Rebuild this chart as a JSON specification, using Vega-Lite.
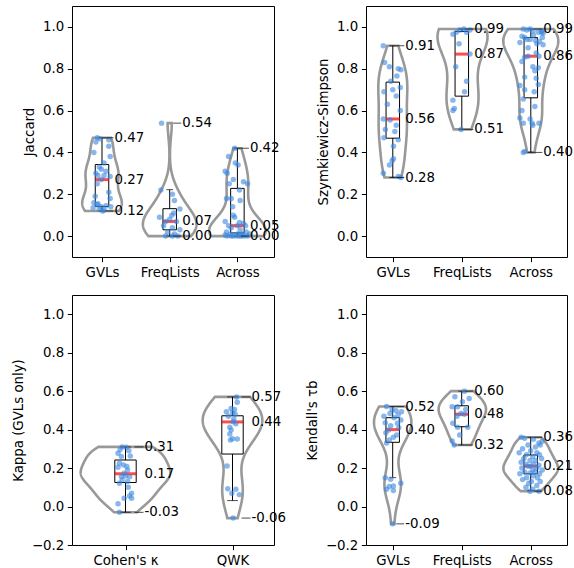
{
"$schema": "https://vega.github.io/schema/vega-lite/v6.json",
"padding": {"left": 10, "top": 5, "right": 0, "bottom": 0},
"bounds": "flush",
"columns": 2,
"spacing": {"row": 38, "column": 92},
"datasets": {
"pts": [
{"p":"TL","c":"GVLs","v":0.47,"j":-0.07},{"p":"TL","c":"GVLs","v":0.465,"j":-0.03},{"p":"TL","c":"GVLs","v":0.46,"j":0.10},{"p":"TL","c":"GVLs","v":0.45,"j":-0.09},{"p":"TL","c":"GVLs","v":0.43,"j":0.10},{"p":"TL","c":"GVLs","v":0.40,"j":-0.12},{"p":"TL","c":"GVLs","v":0.38,"j":0.12},{"p":"TL","c":"GVLs","v":0.35,"j":0.03},{"p":"TL","c":"GVLs","v":0.33,"j":-0.04},{"p":"TL","c":"GVLs","v":0.32,"j":-0.01},{"p":"TL","c":"GVLs","v":0.31,"j":0.06},{"p":"TL","c":"GVLs","v":0.30,"j":-0.09},{"p":"TL","c":"GVLs","v":0.29,"j":-0.06},{"p":"TL","c":"GVLs","v":0.29,"j":0.03},{"p":"TL","c":"GVLs","v":0.285,"j":0.12},{"p":"TL","c":"GVLs","v":0.27,"j":-0.01},{"p":"TL","c":"GVLs","v":0.25,"j":-0.07},{"p":"TL","c":"GVLs","v":0.21,"j":0.10},{"p":"TL","c":"GVLs","v":0.19,"j":-0.10},{"p":"TL","c":"GVLs","v":0.18,"j":0.12},{"p":"TL","c":"GVLs","v":0.16,"j":-0.12},{"p":"TL","c":"GVLs","v":0.155,"j":-0.06},{"p":"TL","c":"GVLs","v":0.15,"j":-0.07},{"p":"TL","c":"GVLs","v":0.145,"j":0.06},{"p":"TL","c":"GVLs","v":0.14,"j":-0.01},{"p":"TL","c":"GVLs","v":0.14,"j":0.13},{"p":"TL","c":"GVLs","v":0.135,"j":-0.13},{"p":"TL","c":"GVLs","v":0.13,"j":-0.04},{"p":"TL","c":"GVLs","v":0.125,"j":0.03},{"p":"TL","c":"GVLs","v":0.12,"j":0.01},
{"p":"TL","c":"FreqLists","v":0.54,"j":-0.12},{"p":"TL","c":"FreqLists","v":0.22,"j":-0.13},{"p":"TL","c":"FreqLists","v":0.20,"j":0.04},{"p":"TL","c":"FreqLists","v":0.17,"j":0.07},{"p":"TL","c":"FreqLists","v":0.13,"j":0.15},{"p":"TL","c":"FreqLists","v":0.11,"j":0.06},{"p":"TL","c":"FreqLists","v":0.10,"j":0.03},{"p":"TL","c":"FreqLists","v":0.09,"j":-0.15},{"p":"TL","c":"FreqLists","v":0.08,"j":0.0},{"p":"TL","c":"FreqLists","v":0.07,"j":-0.06},{"p":"TL","c":"FreqLists","v":0.07,"j":0.10},{"p":"TL","c":"FreqLists","v":0.05,"j":-0.09},{"p":"TL","c":"FreqLists","v":0.04,"j":0.04},{"p":"TL","c":"FreqLists","v":0.03,"j":0.15},{"p":"TL","c":"FreqLists","v":0.02,"j":-0.03},{"p":"TL","c":"FreqLists","v":0.01,"j":0.07},{"p":"TL","c":"FreqLists","v":0.0,"j":-0.06},{"p":"TL","c":"FreqLists","v":0.0,"j":0.04},{"p":"TL","c":"FreqLists","v":0.0,"j":0.12},
{"p":"TL","c":"Across","v":0.42,"j":-0.04},{"p":"TL","c":"Across","v":0.38,"j":-0.13},{"p":"TL","c":"Across","v":0.35,"j":-0.03},{"p":"TL","c":"Across","v":0.34,"j":0.01},{"p":"TL","c":"Across","v":0.31,"j":-0.18},{"p":"TL","c":"Across","v":0.30,"j":-0.15},{"p":"TL","c":"Across","v":0.27,"j":-0.06},{"p":"TL","c":"Across","v":0.26,"j":0.09},{"p":"TL","c":"Across","v":0.25,"j":0.15},{"p":"TL","c":"Across","v":0.25,"j":-0.12},{"p":"TL","c":"Across","v":0.22,"j":0.03},{"p":"TL","c":"Across","v":0.18,"j":-0.16},{"p":"TL","c":"Across","v":0.18,"j":-0.09},{"p":"TL","c":"Across","v":0.17,"j":0.04},{"p":"TL","c":"Across","v":0.14,"j":-0.07},{"p":"TL","c":"Across","v":0.10,"j":-0.06},{"p":"TL","c":"Across","v":0.09,"j":-0.04},{"p":"TL","c":"Across","v":0.07,"j":-0.18},{"p":"TL","c":"Across","v":0.065,"j":0.03},{"p":"TL","c":"Across","v":0.06,"j":0.09},{"p":"TL","c":"Across","v":0.05,"j":-0.13},{"p":"TL","c":"Across","v":0.05,"j":0.0},{"p":"TL","c":"Across","v":0.05,"j":0.12},{"p":"TL","c":"Across","v":0.04,"j":-0.09},{"p":"TL","c":"Across","v":0.03,"j":0.04},{"p":"TL","c":"Across","v":0.02,"j":-0.16},{"p":"TL","c":"Across","v":0.02,"j":0.13},{"p":"TL","c":"Across","v":0.01,"j":-0.10},{"p":"TL","c":"Across","v":0.01,"j":0.0},{"p":"TL","c":"Across","v":0.01,"j":0.07},{"p":"TL","c":"Across","v":0.01,"j":0.18},{"p":"TL","c":"Across","v":0.005,"j":-0.18},{"p":"TL","c":"Across","v":0.0,"j":-0.06},{"p":"TL","c":"Across","v":0.0,"j":0.03},{"p":"TL","c":"Across","v":0.0,"j":0.10},{"p":"TL","c":"Across","v":0.0,"j":-0.15},{"p":"TL","c":"Across","v":0.0,"j":0.15},{"p":"TL","c":"Across","v":0.0,"j":-0.01},{"p":"TL","c":"Across","v":0.0,"j":0.06},{"p":"TL","c":"Across","v":0.0,"j":-0.09},
{"p":"TR","c":"GVLs","v":0.91,"j":-0.14},{"p":"TR","c":"GVLs","v":0.83,"j":-0.12},{"p":"TR","c":"GVLs","v":0.81,"j":-0.05},{"p":"TR","c":"GVLs","v":0.80,"j":0.08},{"p":"TR","c":"GVLs","v":0.795,"j":0.12},{"p":"TR","c":"GVLs","v":0.765,"j":0.06},{"p":"TR","c":"GVLs","v":0.74,"j":-0.03},{"p":"TR","c":"GVLs","v":0.69,"j":-0.13},{"p":"TR","c":"GVLs","v":0.70,"j":0.0},{"p":"TR","c":"GVLs","v":0.67,"j":0.05},{"p":"TR","c":"GVLs","v":0.71,"j":0.11},{"p":"TR","c":"GVLs","v":0.63,"j":-0.08},{"p":"TR","c":"GVLs","v":0.60,"j":0.11},{"p":"TR","c":"GVLs","v":0.56,"j":-0.14},{"p":"TR","c":"GVLs","v":0.555,"j":-0.04},{"p":"TR","c":"GVLs","v":0.53,"j":0.05},{"p":"TR","c":"GVLs","v":0.51,"j":-0.11},{"p":"TR","c":"GVLs","v":0.50,"j":0.03},{"p":"TR","c":"GVLs","v":0.47,"j":-0.13},{"p":"TR","c":"GVLs","v":0.46,"j":0.08},{"p":"TR","c":"GVLs","v":0.43,"j":0.01},{"p":"TR","c":"GVLs","v":0.37,"j":0.01},{"p":"TR","c":"GVLs","v":0.36,"j":-0.01},{"p":"TR","c":"GVLs","v":0.34,"j":-0.05},{"p":"TR","c":"GVLs","v":0.30,"j":-0.14},{"p":"TR","c":"GVLs","v":0.285,"j":0.08},{"p":"TR","c":"GVLs","v":0.28,"j":0.12},
{"p":"TR","c":"FreqLists","v":0.965,"j":-0.13},{"p":"TR","c":"FreqLists","v":0.975,"j":-0.08},{"p":"TR","c":"FreqLists","v":0.985,"j":-0.03},{"p":"TR","c":"FreqLists","v":0.99,"j":0.03},{"p":"TR","c":"FreqLists","v":0.975,"j":0.07},{"p":"TR","c":"FreqLists","v":0.985,"j":0.12},{"p":"TR","c":"FreqLists","v":0.92,"j":-0.04},{"p":"TR","c":"FreqLists","v":0.87,"j":0.12},{"p":"TR","c":"FreqLists","v":0.81,"j":-0.09},{"p":"TR","c":"FreqLists","v":0.74,"j":0.07},{"p":"TR","c":"FreqLists","v":0.69,"j":0.04},{"p":"TR","c":"FreqLists","v":0.65,"j":-0.13},{"p":"TR","c":"FreqLists","v":0.61,"j":-0.11},{"p":"TR","c":"FreqLists","v":0.60,"j":-0.13},{"p":"TR","c":"FreqLists","v":0.51,"j":-0.01},
{"p":"TR","c":"Across","v":0.99,"j":-0.11},{"p":"TR","c":"Across","v":0.985,"j":-0.06},{"p":"TR","c":"Across","v":0.98,"j":0.03},{"p":"TR","c":"Across","v":0.975,"j":0.11},{"p":"TR","c":"Across","v":0.975,"j":0.16},{"p":"TR","c":"Across","v":0.97,"j":0.18},{"p":"TR","c":"Across","v":0.955,"j":-0.13},{"p":"TR","c":"Across","v":0.95,"j":-0.09},{"p":"TR","c":"Across","v":0.94,"j":-0.01},{"p":"TR","c":"Across","v":0.935,"j":0.07},{"p":"TR","c":"Across","v":0.93,"j":0.13},{"p":"TR","c":"Across","v":0.925,"j":-0.16},{"p":"TR","c":"Across","v":0.915,"j":0.18},{"p":"TR","c":"Across","v":0.90,"j":-0.04},{"p":"TR","c":"Across","v":0.875,"j":0.08},{"p":"TR","c":"Across","v":0.855,"j":-0.09},{"p":"TR","c":"Across","v":0.835,"j":-0.13},{"p":"TR","c":"Across","v":0.81,"j":0.03},{"p":"TR","c":"Across","v":0.805,"j":0.11},{"p":"TR","c":"Across","v":0.79,"j":0.06},{"p":"TR","c":"Across","v":0.76,"j":-0.09},{"p":"TR","c":"Across","v":0.755,"j":0.08},{"p":"TR","c":"Across","v":0.725,"j":0.11},{"p":"TR","c":"Across","v":0.72,"j":-0.16},{"p":"TR","c":"Across","v":0.70,"j":-0.09},{"p":"TR","c":"Across","v":0.69,"j":0.05},{"p":"TR","c":"Across","v":0.655,"j":-0.11},{"p":"TR","c":"Across","v":0.62,"j":0.06},{"p":"TR","c":"Across","v":0.60,"j":-0.13},{"p":"TR","c":"Across","v":0.565,"j":-0.16},{"p":"TR","c":"Across","v":0.56,"j":-0.01},{"p":"TR","c":"Across","v":0.54,"j":-0.11},{"p":"TR","c":"Across","v":0.54,"j":0.02},{"p":"TR","c":"Across","v":0.54,"j":0.12},{"p":"TR","c":"Across","v":0.53,"j":0.03},{"p":"TR","c":"Across","v":0.405,"j":-0.09},{"p":"TR","c":"Across","v":0.40,"j":-0.11},{"p":"TR","c":"Across","v":0.99,"j":-0.01},{"p":"TR","c":"Across","v":0.98,"j":0.16},{"p":"TR","c":"Across","v":0.96,"j":0.04},{"p":"TR","c":"Across","v":0.95,"j":0.17},{"p":"TR","c":"Across","v":0.94,"j":-0.06},{"p":"TR","c":"Across","v":0.92,"j":0.09},{"p":"TR","c":"Across","v":0.86,"j":-0.04},{"p":"TR","c":"Across","v":0.86,"j":0.12},
{"p":"BL","c":"Cohen's κ","v":0.31,"j":-0.05},{"p":"BL","c":"Cohen's κ","v":0.308,"j":0.01},{"p":"BL","c":"Cohen's κ","v":0.295,"j":-0.08},{"p":"BL","c":"Cohen's κ","v":0.29,"j":0.05},{"p":"BL","c":"Cohen's κ","v":0.277,"j":-0.11},{"p":"BL","c":"Cohen's κ","v":0.26,"j":-0.06},{"p":"BL","c":"Cohen's κ","v":0.263,"j":0.07},{"p":"BL","c":"Cohen's κ","v":0.225,"j":-0.09},{"p":"BL","c":"Cohen's κ","v":0.216,"j":-0.03},{"p":"BL","c":"Cohen's κ","v":0.208,"j":0.02},{"p":"BL","c":"Cohen's κ","v":0.204,"j":-0.11},{"p":"BL","c":"Cohen's κ","v":0.19,"j":0.03},{"p":"BL","c":"Cohen's κ","v":0.173,"j":-0.02},{"p":"BL","c":"Cohen's κ","v":0.159,"j":0.0},{"p":"BL","c":"Cohen's κ","v":0.156,"j":-0.06},{"p":"BL","c":"Cohen's κ","v":0.155,"j":0.06},{"p":"BL","c":"Cohen's κ","v":0.138,"j":-0.05},{"p":"BL","c":"Cohen's κ","v":0.13,"j":0.03},{"p":"BL","c":"Cohen's κ","v":0.121,"j":-0.09},{"p":"BL","c":"Cohen's κ","v":0.10,"j":0.04},{"p":"BL","c":"Cohen's κ","v":0.069,"j":0.09},{"p":"BL","c":"Cohen's κ","v":0.055,"j":0.06},{"p":"BL","c":"Cohen's κ","v":0.043,"j":0.09},{"p":"BL","c":"Cohen's κ","v":0.043,"j":-0.02},{"p":"BL","c":"Cohen's κ","v":0.014,"j":-0.11},{"p":"BL","c":"Cohen's κ","v":-0.03,"j":-0.09},
{"p":"BL","c":"QWK","v":0.57,"j":0.06},{"p":"BL","c":"QWK","v":0.542,"j":0.07},{"p":"BL","c":"QWK","v":0.51,"j":-0.02},{"p":"BL","c":"QWK","v":0.505,"j":0.03},{"p":"BL","c":"QWK","v":0.493,"j":-0.09},{"p":"BL","c":"QWK","v":0.488,"j":0.0},{"p":"BL","c":"QWK","v":0.48,"j":0.04},{"p":"BL","c":"QWK","v":0.441,"j":0.01},{"p":"BL","c":"QWK","v":0.412,"j":-0.04},{"p":"BL","c":"QWK","v":0.398,"j":-0.02},{"p":"BL","c":"QWK","v":0.377,"j":-0.04},{"p":"BL","c":"QWK","v":0.351,"j":0.07},{"p":"BL","c":"QWK","v":0.346,"j":-0.03},{"p":"BL","c":"QWK","v":0.353,"j":0.0},{"p":"BL","c":"QWK","v":0.211,"j":-0.08},{"p":"BL","c":"QWK","v":0.092,"j":-0.07},{"p":"BL","c":"QWK","v":0.09,"j":0.05},{"p":"BL","c":"QWK","v":0.069,"j":-0.01},{"p":"BL","c":"QWK","v":0.062,"j":0.10},{"p":"BL","c":"QWK","v":-0.06,"j":0.01},{"p":"BL","c":"QWK","v":0.47,"j":-0.06},{"p":"BL","c":"QWK","v":0.455,"j":0.02},{"p":"BL","c":"QWK","v":0.43,"j":0.05},
{"p":"BR","c":"GVLs","v":0.52,"j":-0.09},{"p":"BR","c":"GVLs","v":0.505,"j":-0.01},{"p":"BR","c":"GVLs","v":0.498,"j":0.05},{"p":"BR","c":"GVLs","v":0.493,"j":0.13},{"p":"BR","c":"GVLs","v":0.484,"j":-0.04},{"p":"BR","c":"GVLs","v":0.476,"j":0.08},{"p":"BR","c":"GVLs","v":0.462,"j":0.02},{"p":"BR","c":"GVLs","v":0.436,"j":-0.11},{"p":"BR","c":"GVLs","v":0.433,"j":0.07},{"p":"BR","c":"GVLs","v":0.398,"j":-0.06},{"p":"BR","c":"GVLs","v":0.384,"j":-0.10},{"p":"BR","c":"GVLs","v":0.372,"j":0.06},{"p":"BR","c":"GVLs","v":0.36,"j":0.01},{"p":"BR","c":"GVLs","v":0.346,"j":-0.05},{"p":"BR","c":"GVLs","v":0.33,"j":-0.09},{"p":"BR","c":"GVLs","v":0.15,"j":-0.11},{"p":"BR","c":"GVLs","v":0.142,"j":-0.03},{"p":"BR","c":"GVLs","v":0.121,"j":0.12},{"p":"BR","c":"GVLs","v":0.104,"j":-0.05},{"p":"BR","c":"GVLs","v":0.107,"j":0.01},{"p":"BR","c":"GVLs","v":0.09,"j":-0.09},{"p":"BR","c":"GVLs","v":0.083,"j":0.01},{"p":"BR","c":"GVLs","v":-0.09,"j":0.0},{"p":"BR","c":"GVLs","v":0.47,"j":-0.13},{"p":"BR","c":"GVLs","v":0.45,"j":0.12},{"p":"BR","c":"GVLs","v":0.42,"j":-0.03},{"p":"BR","c":"GVLs","v":0.41,"j":0.09},
{"p":"BR","c":"FreqLists","v":0.60,"j":0.04},{"p":"BR","c":"FreqLists","v":0.571,"j":-0.10},{"p":"BR","c":"FreqLists","v":0.562,"j":0.11},{"p":"BR","c":"FreqLists","v":0.545,"j":0.01},{"p":"BR","c":"FreqLists","v":0.519,"j":-0.14},{"p":"BR","c":"FreqLists","v":0.519,"j":-0.06},{"p":"BR","c":"FreqLists","v":0.505,"j":0.06},{"p":"BR","c":"FreqLists","v":0.484,"j":-0.01},{"p":"BR","c":"FreqLists","v":0.48,"j":0.04},{"p":"BR","c":"FreqLists","v":0.47,"j":-0.07},{"p":"BR","c":"FreqLists","v":0.433,"j":-0.13},{"p":"BR","c":"FreqLists","v":0.412,"j":-0.06},{"p":"BR","c":"FreqLists","v":0.412,"j":0.09},{"p":"BR","c":"FreqLists","v":0.372,"j":-0.03},{"p":"BR","c":"FreqLists","v":0.341,"j":-0.14},{"p":"BR","c":"FreqLists","v":0.32,"j":-0.11},
{"p":"BR","c":"Across","v":0.36,"j":-0.14},{"p":"BR","c":"Across","v":0.355,"j":-0.09},{"p":"BR","c":"Across","v":0.35,"j":0.04},{"p":"BR","c":"Across","v":0.34,"j":0.17},{"p":"BR","c":"Across","v":0.33,"j":0.12},{"p":"BR","c":"Across","v":0.32,"j":-0.04},{"p":"BR","c":"Across","v":0.32,"j":0.14},{"p":"BR","c":"Across","v":0.31,"j":0.07},{"p":"BR","c":"Across","v":0.30,"j":-0.12},{"p":"BR","c":"Across","v":0.29,"j":0.0},{"p":"BR","c":"Across","v":0.28,"j":-0.17},{"p":"BR","c":"Across","v":0.28,"j":0.09},{"p":"BR","c":"Across","v":0.27,"j":-0.06},{"p":"BR","c":"Across","v":0.27,"j":0.13},{"p":"BR","c":"Across","v":0.26,"j":0.03},{"p":"BR","c":"Across","v":0.25,"j":-0.10},{"p":"BR","c":"Across","v":0.25,"j":0.16},{"p":"BR","c":"Across","v":0.24,"j":-0.01},{"p":"BR","c":"Across","v":0.24,"j":0.07},{"p":"BR","c":"Across","v":0.23,"j":-0.14},{"p":"BR","c":"Across","v":0.22,"j":0.04},{"p":"BR","c":"Across","v":0.22,"j":-0.07},{"p":"BR","c":"Across","v":0.215,"j":0.12},{"p":"BR","c":"Across","v":0.21,"j":0.0},{"p":"BR","c":"Across","v":0.21,"j":-0.04},{"p":"BR","c":"Across","v":0.20,"j":0.09},{"p":"BR","c":"Across","v":0.20,"j":-0.13},{"p":"BR","c":"Across","v":0.19,"j":0.03},{"p":"BR","c":"Across","v":0.19,"j":0.17},{"p":"BR","c":"Across","v":0.18,"j":-0.09},{"p":"BR","c":"Across","v":0.18,"j":0.06},{"p":"BR","c":"Across","v":0.175,"j":-0.01},{"p":"BR","c":"Across","v":0.17,"j":0.13},{"p":"BR","c":"Across","v":0.17,"j":-0.16},{"p":"BR","c":"Across","v":0.16,"j":0.04},{"p":"BR","c":"Across","v":0.15,"j":-0.06},{"p":"BR","c":"Across","v":0.15,"j":0.10},{"p":"BR","c":"Across","v":0.14,"j":-0.12},{"p":"BR","c":"Across","v":0.13,"j":0.01},{"p":"BR","c":"Across","v":0.13,"j":0.14},{"p":"BR","c":"Across","v":0.12,"j":-0.03},{"p":"BR","c":"Across","v":0.11,"j":0.09},{"p":"BR","c":"Across","v":0.10,"j":-0.07},{"p":"BR","c":"Across","v":0.09,"j":0.03},{"p":"BR","c":"Across","v":0.08,"j":-0.01},{"p":"BR","c":"Across","v":0.08,"j":0.12}
],
"st": [
{"p":"TL","c":"GVLs","lo":0.12,"q1":0.142,"med":0.27,"q3":0.342,"hi":0.47,"mn":0.12,"mx":0.47},
{"p":"TL","c":"FreqLists","lo":0.0,"q1":0.03,"med":0.07,"q3":0.131,"hi":0.222,"mn":0.0,"mx":0.54},
{"p":"TL","c":"Across","lo":0.0,"q1":0.015,"med":0.05,"q3":0.228,"hi":0.42,"mn":0.0,"mx":0.42},
{"p":"TR","c":"GVLs","lo":0.28,"q1":0.468,"med":0.56,"q3":0.736,"hi":0.91,"mn":0.28,"mx":0.91},
{"p":"TR","c":"FreqLists","lo":0.51,"q1":0.669,"med":0.87,"q3":0.978,"hi":0.99,"mn":0.51,"mx":0.99},
{"p":"TR","c":"Across","lo":0.40,"q1":0.661,"med":0.86,"q3":0.949,"hi":0.99,"mn":0.40,"mx":0.99},
{"p":"BL","c":"Cohen's κ","lo":-0.03,"q1":0.125,"med":0.17,"q3":0.242,"hi":0.31,"mn":-0.03,"mx":0.31},
{"p":"BL","c":"QWK","lo":0.031,"q1":0.273,"med":0.44,"q3":0.472,"hi":0.57,"mn":-0.06,"mx":0.57},
{"p":"BR","c":"GVLs","lo":0.15,"q1":0.334,"med":0.40,"q3":0.462,"hi":0.52,"mn":-0.09,"mx":0.52},
{"p":"BR","c":"FreqLists","lo":0.32,"q1":0.415,"med":0.48,"q3":0.524,"hi":0.60,"mn":0.32,"mx":0.60},
{"p":"BR","c":"Across","lo":0.083,"q1":0.17,"med":0.21,"q3":0.268,"hi":0.36,"mn":0.08,"mx":0.36}
]
},
"concat": [
{
"width": 202, "height": 251,
"resolve": {"scale": {"x": "independent"}},
"layer": [
{"resolve": {"scale": {"x": "independent"}}, "layer": [
{"data": {"name": "pts"}, "transform": [{"filter": {"and": [{"field": "p", "equal": "TL"}, {"field": "c", "equal": "GVLs"}]}}, {"density": "v", "bandwidth": 0.056, "as": ["v", "density"]}],
 "mark": {"type": "area", "orient": "horizontal", "fillOpacity": 0, "stroke": "#999999", "strokeWidth": 2.6},
 "encoding": {"x": {"field": "density", "type": "quantitative", "stack": "center", "scale": {"range": [10.2, 49.8], "nice": false, "zero": false}, "axis": null}, "y": {"field": "v", "type": "quantitative"}}},
{"data": {"name": "pts"}, "transform": [{"filter": {"and": [{"field": "p", "equal": "TL"}, {"field": "c", "equal": "FreqLists"}]}}, {"density": "v", "bandwidth": 0.066, "as": ["v", "density"]}],
 "mark": {"type": "area", "orient": "horizontal", "fillOpacity": 0, "stroke": "#999999", "strokeWidth": 2.6},
 "encoding": {"x": {"field": "density", "type": "quantitative", "stack": "center", "scale": {"range": [70.9, 124.5], "nice": false, "zero": false}, "axis": null}, "y": {"field": "v", "type": "quantitative"}}},
{"data": {"name": "pts"}, "transform": [{"filter": {"and": [{"field": "p", "equal": "TL"}, {"field": "c", "equal": "Across"}]}}, {"density": "v", "bandwidth": 0.062, "as": ["v", "density"]}],
 "mark": {"type": "area", "orient": "horizontal", "fillOpacity": 0, "stroke": "#999999", "strokeWidth": 2.6},
 "encoding": {"x": {"field": "density", "type": "quantitative", "stack": "center", "scale": {"range": [137.2, 193.6], "nice": false, "zero": false}, "axis": null}, "y": {"field": "v", "type": "quantitative"}}}
]},
{"encoding": {"x": {"field": "c", "type": "nominal", "title": null, "scale": {"type": "point", "domain": ["GVLs", "FreqLists", "Across"], "range": [30, 165.4], "padding": 0}}},
 "layer": [
{"data": {"name": "st"}, "transform": [{"filter": {"field": "p", "equal": "TL"}}], "mark": {"type": "rule", "color": "black", "strokeWidth": 1},
 "encoding": {"y": {"field": "lo", "type": "quantitative", "scale": {"domain": [-0.1, 1.1], "nice": false}, "axis": {"values": [0, 0.2, 0.4, 0.6, 0.8, 1.0], "format": ".1f", "labelExpr": "replace(datum.label, '-', '−')", "title": "Jaccard"}}, "y2": {"field": "q1"}}},
{"data": {"name": "st"}, "transform": [{"filter": {"field": "p", "equal": "TL"}}], "mark": {"type": "rule", "color": "black", "strokeWidth": 1},
 "encoding": {"y": {"field": "q3", "type": "quantitative"}, "y2": {"field": "hi"}}},
{"data": {"name": "st"}, "transform": [{"filter": {"field": "p", "equal": "TL"}}, {"fold": ["lo", "hi"], "as": ["k", "w"]}], "mark": {"type": "tick", "color": "black", "thickness": 1, "size": 6.8},
 "encoding": {"y": {"field": "w", "type": "quantitative"}}},
{"data": {"name": "st"}, "transform": [{"filter": {"field": "p", "equal": "TL"}}], "mark": {"type": "bar", "size": 13.5, "fillOpacity": 0, "stroke": "black", "strokeWidth": 1},
 "encoding": {"y": {"field": "q1", "type": "quantitative"}, "y2": {"field": "q3"}}},
{"data": {"name": "st"}, "transform": [{"filter": {"field": "p", "equal": "TL"}}], "mark": {"type": "tick", "color": "#ff0000", "thickness": 3, "size": 13.5},
 "encoding": {"y": {"field": "med", "type": "quantitative"}}},
{"data": {"name": "pts"}, "transform": [{"filter": {"field": "p", "equal": "TL"}}], "mark": {"type": "circle", "size": 30, "color": "#3b87e0", "opacity": 0.6},
 "encoding": {"y": {"field": "v", "type": "quantitative"}, "xOffset": {"field": "j", "type": "quantitative", "scale": {"domain": [-1, 1], "range": [-68, 68]}}}},
{"data": {"name": "st"}, "transform": [{"filter": {"field": "p", "equal": "TL"}}, {"fold": ["mn", "mx"], "as": ["k", "w"]}], "mark": {"type": "tick", "color": "black", "thickness": 1, "size": 8, "xOffset": 7.5},
 "encoding": {"y": {"field": "w", "type": "quantitative"}}},
{"data": {"name": "st"}, "transform": [{"filter": {"field": "p", "equal": "TL"}}, {"fold": ["mn", "mx"], "as": ["k", "w"]}], "mark": {"type": "text", "align": "left", "baseline": "middle", "dx": 12.5, "fontSize": 13.33, "font": "DejaVu Sans", "color": "black"},
 "encoding": {"y": {"field": "w", "type": "quantitative"}, "text": {"field": "w", "type": "quantitative", "format": ".2f"}}},
{"data": {"name": "st"}, "transform": [{"filter": {"field": "p", "equal": "TL"}}], "mark": {"type": "text", "align": "left", "baseline": "middle", "dx": 12.5, "fontSize": 13.33, "font": "DejaVu Sans", "color": "black"},
 "encoding": {"y": {"field": "med", "type": "quantitative"}, "text": {"field": "med", "type": "quantitative", "format": ".2f"}}}
]}
]
},
{
"width": 201, "height": 251,
"resolve": {"scale": {"x": "independent"}},
"layer": [
{"resolve": {"scale": {"x": "independent"}}, "layer": [
{"data": {"name": "pts"}, "transform": [{"filter": {"and": [{"field": "p", "equal": "TR"}, {"field": "c", "equal": "GVLs"}]}}, {"density": "v", "bandwidth": 0.088, "as": ["v", "density"]}],
 "mark": {"type": "area", "orient": "horizontal", "fillOpacity": 0, "stroke": "#999999", "strokeWidth": 2.6},
 "encoding": {"x": {"field": "density", "type": "quantitative", "stack": "center", "scale": {"range": [12.3, 41.3], "nice": false, "zero": false}, "axis": null}, "y": {"field": "v", "type": "quantitative"}}},
{"data": {"name": "pts"}, "transform": [{"filter": {"and": [{"field": "p", "equal": "TR"}, {"field": "c", "equal": "FreqLists"}]}}, {"density": "v", "bandwidth": 0.093, "as": ["v", "density"]}],
 "mark": {"type": "area", "orient": "horizontal", "fillOpacity": 0, "stroke": "#999999", "strokeWidth": 2.6},
 "encoding": {"x": {"field": "density", "type": "quantitative", "stack": "center", "scale": {"range": [71.5, 121.5], "nice": false, "zero": false}, "axis": null}, "y": {"field": "v", "type": "quantitative"}}},
{"data": {"name": "pts"}, "transform": [{"filter": {"and": [{"field": "p", "equal": "TR"}, {"field": "c", "equal": "Across"}]}}, {"density": "v", "bandwidth": 0.075, "as": ["v", "density"]}],
 "mark": {"type": "area", "orient": "horizontal", "fillOpacity": 0, "stroke": "#999999", "strokeWidth": 2.6},
 "encoding": {"x": {"field": "density", "type": "quantitative", "stack": "center", "scale": {"range": [137.3, 192.3], "nice": false, "zero": false}, "axis": null}, "y": {"field": "v", "type": "quantitative"}}}
]},
{"encoding": {"x": {"field": "c", "type": "nominal", "title": null, "scale": {"type": "point", "domain": ["GVLs", "FreqLists", "Across"], "range": [26.8, 164.8], "padding": 0}}},
 "layer": [
{"data": {"name": "st"}, "transform": [{"filter": {"field": "p", "equal": "TR"}}], "mark": {"type": "rule", "color": "black", "strokeWidth": 1},
 "encoding": {"y": {"field": "lo", "type": "quantitative", "scale": {"domain": [-0.1, 1.1], "nice": false}, "axis": {"values": [0, 0.2, 0.4, 0.6, 0.8, 1.0], "format": ".1f", "labelExpr": "replace(datum.label, '-', '−')", "title": "Szymkiewicz-Simpson"}}, "y2": {"field": "q1"}}},
{"data": {"name": "st"}, "transform": [{"filter": {"field": "p", "equal": "TR"}}], "mark": {"type": "rule", "color": "black", "strokeWidth": 1},
 "encoding": {"y": {"field": "q3", "type": "quantitative"}, "y2": {"field": "hi"}}},
{"data": {"name": "st"}, "transform": [{"filter": {"field": "p", "equal": "TR"}}, {"fold": ["lo", "hi"], "as": ["k", "w"]}], "mark": {"type": "tick", "color": "black", "thickness": 1, "size": 6.8},
 "encoding": {"y": {"field": "w", "type": "quantitative"}}},
{"data": {"name": "st"}, "transform": [{"filter": {"field": "p", "equal": "TR"}}], "mark": {"type": "bar", "size": 13.5, "fillOpacity": 0, "stroke": "black", "strokeWidth": 1},
 "encoding": {"y": {"field": "q1", "type": "quantitative"}, "y2": {"field": "q3"}}},
{"data": {"name": "st"}, "transform": [{"filter": {"field": "p", "equal": "TR"}}], "mark": {"type": "tick", "color": "#ff0000", "thickness": 3, "size": 13.5},
 "encoding": {"y": {"field": "med", "type": "quantitative"}}},
{"data": {"name": "pts"}, "transform": [{"filter": {"field": "p", "equal": "TR"}}], "mark": {"type": "circle", "size": 30, "color": "#3b87e0", "opacity": 0.6},
 "encoding": {"y": {"field": "v", "type": "quantitative"}, "xOffset": {"field": "j", "type": "quantitative", "scale": {"domain": [-1, 1], "range": [-69, 69]}}}},
{"data": {"name": "st"}, "transform": [{"filter": {"field": "p", "equal": "TR"}}, {"fold": ["mn", "mx"], "as": ["k", "w"]}], "mark": {"type": "tick", "color": "black", "thickness": 1, "size": 8, "xOffset": 7.5},
 "encoding": {"y": {"field": "w", "type": "quantitative"}}},
{"data": {"name": "st"}, "transform": [{"filter": {"field": "p", "equal": "TR"}}, {"fold": ["mn", "mx"], "as": ["k", "w"]}], "mark": {"type": "text", "align": "left", "baseline": "middle", "dx": 12.5, "fontSize": 13.33, "font": "DejaVu Sans", "color": "black"},
 "encoding": {"y": {"field": "w", "type": "quantitative"}, "text": {"field": "w", "type": "quantitative", "format": ".2f"}}},
{"data": {"name": "st"}, "transform": [{"filter": {"field": "p", "equal": "TR"}}], "mark": {"type": "text", "align": "left", "baseline": "middle", "dx": 12.5, "fontSize": 13.33, "font": "DejaVu Sans", "color": "black"},
 "encoding": {"y": {"field": "med", "type": "quantitative"}, "text": {"field": "med", "type": "quantitative", "format": ".2f"}}}
]}
]
},
{
"width": 202, "height": 250,
"resolve": {"scale": {"x": "independent"}},
"layer": [
{"resolve": {"scale": {"x": "independent"}}, "layer": [
{"data": {"name": "pts"}, "transform": [{"filter": {"and": [{"field": "p", "equal": "BL"}, {"field": "c", "equal": "Cohen's κ"}]}}, {"density": "v", "bandwidth": 0.05, "as": ["v", "density"]}],
 "mark": {"type": "area", "orient": "horizontal", "fillOpacity": 0, "stroke": "#999999", "strokeWidth": 2.6},
 "encoding": {"x": {"field": "density", "type": "quantitative", "stack": "center", "scale": {"range": [8.7, 98.3], "nice": false, "zero": false}, "axis": null}, "y": {"field": "v", "type": "quantitative"}}},
{"data": {"name": "pts"}, "transform": [{"filter": {"and": [{"field": "p", "equal": "BL"}, {"field": "c", "equal": "QWK"}]}}, {"density": "v", "bandwidth": 0.094, "as": ["v", "density"]}],
 "mark": {"type": "area", "orient": "horizontal", "fillOpacity": 0, "stroke": "#999999", "strokeWidth": 2.6},
 "encoding": {"x": {"field": "density", "type": "quantitative", "stack": "center", "scale": {"range": [130.7, 190.3], "nice": false, "zero": false}, "axis": null}, "y": {"field": "v", "type": "quantitative"}}}
]},
{"encoding": {"x": {"field": "c", "type": "nominal", "title": null, "scale": {"type": "point", "domain": ["Cohen's κ", "QWK"], "range": [53.5, 160.5], "padding": 0}}},
 "layer": [
{"data": {"name": "st"}, "transform": [{"filter": {"field": "p", "equal": "BL"}}], "mark": {"type": "rule", "color": "black", "strokeWidth": 1},
 "encoding": {"y": {"field": "lo", "type": "quantitative", "scale": {"domain": [-0.2, 1.1], "nice": false}, "axis": {"values": [-0.2, 0, 0.2, 0.4, 0.6, 0.8, 1.0], "format": ".1f", "labelExpr": "replace(datum.label, '-', '−')", "title": "Kappa (GVLs only)"}}, "y2": {"field": "q1"}}},
{"data": {"name": "st"}, "transform": [{"filter": {"field": "p", "equal": "BL"}}], "mark": {"type": "rule", "color": "black", "strokeWidth": 1},
 "encoding": {"y": {"field": "q3", "type": "quantitative"}, "y2": {"field": "hi"}}},
{"data": {"name": "st"}, "transform": [{"filter": {"field": "p", "equal": "BL"}}, {"fold": ["lo", "hi"], "as": ["k", "w"]}], "mark": {"type": "tick", "color": "black", "thickness": 1, "size": 10.7},
 "encoding": {"y": {"field": "w", "type": "quantitative"}}},
{"data": {"name": "st"}, "transform": [{"filter": {"field": "p", "equal": "BL"}}], "mark": {"type": "bar", "size": 21.4, "fillOpacity": 0, "stroke": "black", "strokeWidth": 1},
 "encoding": {"y": {"field": "q1", "type": "quantitative"}, "y2": {"field": "q3"}}},
{"data": {"name": "st"}, "transform": [{"filter": {"field": "p", "equal": "BL"}}], "mark": {"type": "tick", "color": "#ff0000", "thickness": 3, "size": 21.4},
 "encoding": {"y": {"field": "med", "type": "quantitative"}}},
{"data": {"name": "pts"}, "transform": [{"filter": {"field": "p", "equal": "BL"}}], "mark": {"type": "circle", "size": 30, "color": "#3b87e0", "opacity": 0.6},
 "encoding": {"y": {"field": "v", "type": "quantitative"}, "xOffset": {"field": "j", "type": "quantitative", "scale": {"domain": [-1, 1], "range": [-107, 107]}}}},
{"data": {"name": "st"}, "transform": [{"filter": {"field": "p", "equal": "BL"}}, {"fold": ["mn", "mx"], "as": ["k", "w"]}], "mark": {"type": "tick", "color": "black", "thickness": 1, "size": 9, "xOffset": 13.5},
 "encoding": {"y": {"field": "w", "type": "quantitative"}}},
{"data": {"name": "st"}, "transform": [{"filter": {"field": "p", "equal": "BL"}}, {"fold": ["mn", "mx"], "as": ["k", "w"]}], "mark": {"type": "text", "align": "left", "baseline": "middle", "dx": 19, "fontSize": 13.33, "font": "DejaVu Sans", "color": "black"},
 "encoding": {"y": {"field": "w", "type": "quantitative"}, "text": {"field": "w", "type": "quantitative", "format": ".2f"}}},
{"data": {"name": "st"}, "transform": [{"filter": {"field": "p", "equal": "BL"}}], "mark": {"type": "text", "align": "left", "baseline": "middle", "dx": 19, "fontSize": 13.33, "font": "DejaVu Sans", "color": "black"},
 "encoding": {"y": {"field": "med", "type": "quantitative"}, "text": {"field": "med", "type": "quantitative", "format": ".2f"}}}
]}
]
},
{
"width": 201, "height": 250,
"resolve": {"scale": {"x": "independent"}},
"layer": [
{"resolve": {"scale": {"x": "independent"}}, "layer": [
{"data": {"name": "pts"}, "transform": [{"filter": {"and": [{"field": "p", "equal": "BR"}, {"field": "c", "equal": "GVLs"}]}}, {"density": "v", "bandwidth": 0.083, "as": ["v", "density"]}],
 "mark": {"type": "area", "orient": "horizontal", "fillOpacity": 0, "stroke": "#999999", "strokeWidth": 2.6},
 "encoding": {"x": {"field": "density", "type": "quantitative", "stack": "center", "scale": {"range": [8.0, 45.4], "nice": false, "zero": false}, "axis": null}, "y": {"field": "v", "type": "quantitative"}}},
{"data": {"name": "pts"}, "transform": [{"filter": {"and": [{"field": "p", "equal": "BR"}, {"field": "c", "equal": "FreqLists"}]}}, {"density": "v", "bandwidth": 0.046, "as": ["v", "density"]}],
 "mark": {"type": "area", "orient": "horizontal", "fillOpacity": 0, "stroke": "#999999", "strokeWidth": 2.6},
 "encoding": {"x": {"field": "density", "type": "quantitative", "stack": "center", "scale": {"range": [72.6, 120.0], "nice": false, "zero": false}, "axis": null}, "y": {"field": "v", "type": "quantitative"}}},
{"data": {"name": "pts"}, "transform": [{"filter": {"and": [{"field": "p", "equal": "BR"}, {"field": "c", "equal": "Across"}]}}, {"density": "v", "bandwidth": 0.033, "as": ["v", "density"]}],
 "mark": {"type": "area", "orient": "horizontal", "fillOpacity": 0, "stroke": "#999999", "strokeWidth": 2.6},
 "encoding": {"x": {"field": "density", "type": "quantitative", "stack": "center", "scale": {"range": [137.4, 192.0], "nice": false, "zero": false}, "axis": null}, "y": {"field": "v", "type": "quantitative"}}}
]},
{"encoding": {"x": {"field": "c", "type": "nominal", "title": null, "scale": {"type": "point", "domain": ["GVLs", "FreqLists", "Across"], "range": [26.7, 164.7], "padding": 0}}},
 "layer": [
{"data": {"name": "st"}, "transform": [{"filter": {"field": "p", "equal": "BR"}}], "mark": {"type": "rule", "color": "black", "strokeWidth": 1},
 "encoding": {"y": {"field": "lo", "type": "quantitative", "scale": {"domain": [-0.2, 1.1], "nice": false}, "axis": {"values": [-0.2, 0, 0.2, 0.4, 0.6, 0.8, 1.0], "format": ".1f", "labelExpr": "replace(datum.label, '-', '−')", "title": "Kendall's τb"}}, "y2": {"field": "q1"}}},
{"data": {"name": "st"}, "transform": [{"filter": {"field": "p", "equal": "BR"}}], "mark": {"type": "rule", "color": "black", "strokeWidth": 1},
 "encoding": {"y": {"field": "q3", "type": "quantitative"}, "y2": {"field": "hi"}}},
{"data": {"name": "st"}, "transform": [{"filter": {"field": "p", "equal": "BR"}}, {"fold": ["lo", "hi"], "as": ["k", "w"]}], "mark": {"type": "tick", "color": "black", "thickness": 1, "size": 6.8},
 "encoding": {"y": {"field": "w", "type": "quantitative"}}},
{"data": {"name": "st"}, "transform": [{"filter": {"field": "p", "equal": "BR"}}], "mark": {"type": "bar", "size": 13.5, "fillOpacity": 0, "stroke": "black", "strokeWidth": 1},
 "encoding": {"y": {"field": "q1", "type": "quantitative"}, "y2": {"field": "q3"}}},
{"data": {"name": "st"}, "transform": [{"filter": {"field": "p", "equal": "BR"}}], "mark": {"type": "tick", "color": "#ff0000", "thickness": 3, "size": 13.5},
 "encoding": {"y": {"field": "med", "type": "quantitative"}}},
{"data": {"name": "pts"}, "transform": [{"filter": {"field": "p", "equal": "BR"}}], "mark": {"type": "circle", "size": 30, "color": "#3b87e0", "opacity": 0.6},
 "encoding": {"y": {"field": "v", "type": "quantitative"}, "xOffset": {"field": "j", "type": "quantitative", "scale": {"domain": [-1, 1], "range": [-69, 69]}}}},
{"data": {"name": "st"}, "transform": [{"filter": {"field": "p", "equal": "BR"}}, {"fold": ["mn", "mx"], "as": ["k", "w"]}], "mark": {"type": "tick", "color": "black", "thickness": 1, "size": 8, "xOffset": 7.5},
 "encoding": {"y": {"field": "w", "type": "quantitative"}}},
{"data": {"name": "st"}, "transform": [{"filter": {"field": "p", "equal": "BR"}}, {"fold": ["mn", "mx"], "as": ["k", "w"]}], "mark": {"type": "text", "align": "left", "baseline": "middle", "dx": 12.5, "fontSize": 13.33, "font": "DejaVu Sans", "color": "black"},
 "encoding": {"y": {"field": "w", "type": "quantitative"}, "text": {"field": "w", "type": "quantitative", "format": ".2f"}}},
{"data": {"name": "st"}, "transform": [{"filter": {"field": "p", "equal": "BR"}}], "mark": {"type": "text", "align": "left", "baseline": "middle", "dx": 12.5, "fontSize": 13.33, "font": "DejaVu Sans", "color": "black"},
 "encoding": {"y": {"field": "med", "type": "quantitative"}, "text": {"field": "med", "type": "quantitative", "format": ".2f"}}}
]}
]
}
],
"config": {
 "font": "DejaVu Sans",
 "view": {"stroke": "black", "strokeWidth": 1},
 "axis": {"labelFont": "DejaVu Sans", "labelFontSize": 13.33, "labelColor": "black", "tickColor": "black", "tickWidth": 1, "tickSize": 4.7, "domain": false, "grid": false, "titleFont": "DejaVu Sans", "titleFontSize": 13.33, "titleFontWeight": "normal", "titleColor": "black", "labelFlush": false, "labelOverlap": false},
 "axisX": {"labelAngle": 0, "labelPadding": 4},
 "axisY": {"labelPadding": 3.5, "titlePadding": 6},
 "locale": {"number": {"decimal": ".", "thousands": ",", "grouping": [3], "currency": ["$", ""], "minus": "-"}}
}
}
